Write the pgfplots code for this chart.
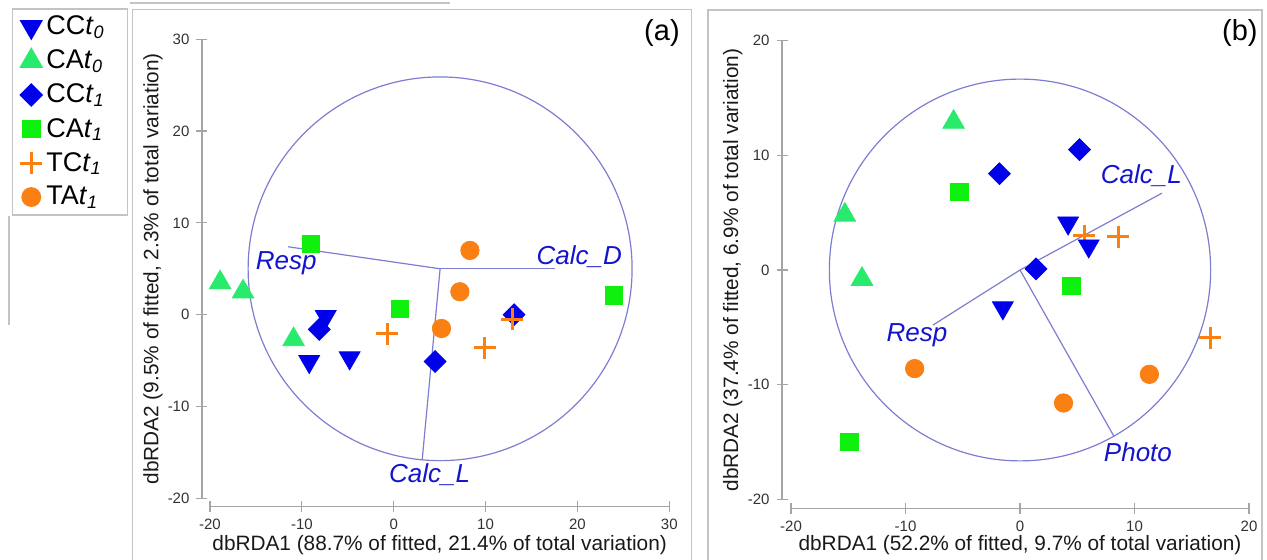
\documentclass[border=0pt]{standalone}
\usepackage{fontspec}
\setmainfont{Liberation Sans}
\usepackage{pgfplots}
\pgfplotsset{compat=1.18}

\definecolor{mblue}{RGB}{0,0,235}
\definecolor{mgT}{RGB}{40,235,110}
\definecolor{mgS}{RGB}{15,240,15}
\definecolor{morange}{RGB}{250,128,20}
\definecolor{circc}{RGB}{125,125,210}
\definecolor{labc}{RGB}{20,20,205}
\definecolor{axgray}{RGB}{165,165,165}
\definecolor{framec}{RGB}{195,195,195}
\definecolor{tickc}{RGB}{50,50,50}

\pgfplotsset{
  rda/.style={
    scale only axis, clip=false,
    axis x line*=bottom, axis y line*=left,
    axis line style={axgray, line width=0.6pt, -},
    every tick/.style={axgray, line width=0.6pt},
    tick align=center, major tick length=5.5pt,
    tick label style={font=\fontsize{7.5}{9}\selectfont, text=tickc},
    label style={font=\fontsize{10.4}{12}\selectfont, text=black!90},
    /pgf/number format/assume math mode=true,
    xtick distance=10, ytick distance=10,
  },
  ccz/.style={only marks, mark=triangle*, mark size=6pt,
    mark options={rotate=180, draw=mblue, fill=mblue}},
  caz/.style={only marks, mark=triangle*, mark size=6.2pt,
    mark options={draw=mgT, fill=mgT}},
  cco/.style={only marks, mark=square*, mark size=3.85pt,
    mark options={rotate=45, draw=mblue, fill=mblue}},
  cao/.style={only marks, mark=square*, mark size=4.35pt,
    mark options={draw=mgS, fill=mgS}},
  tco/.style={only marks, mark=+, mark size=5.5pt,
    mark options={draw=morange, line width=1.5pt}},
  tao/.style={only marks, mark=*, mark size=4.6pt,
    mark options={draw=morange, fill=morange}},
  vec/.style={circc, line width=0.6pt, no marks, forget plot},
}
\tikzset{vlab/.style={labc, font=\fontsize{13}{15}\selectfont\itshape}}
\newcommand{\sub}[1]{\textit{t}\raisebox{-0.12em}{\fontsize{9}{10}\selectfont\textit{#1}}\hspace*{6pt}}

\begin{document}
\begin{tikzpicture}
\path[use as bounding box] (0,0) rectangle (633.5pt,280pt);

% panel frames (pixel units)
\begin{scope}[x=0.5pt,y=-0.5pt,yshift=280pt]
  \draw[framec, line width=0.7pt] (132.7,570) -- (132.7,9.3) -- (691.7,9.3) -- (691.7,570);
  \draw[framec, line width=0.7pt] (708,570) -- (708,10) -- (1262,10) -- (1262,570);
  \draw[framec, line width=0.6pt] (130,3) -- (450,3);
  \draw[framec, line width=0.6pt] (9,216) -- (9,325);
\end{scope}

% ---------------- panel (a) ----------------
\begin{axis}[rda,
  at={(105pt,30.85pt)}, anchor=south west,
  width=229.65pt, height=229.5pt,
  xmin=-20, xmax=30, ymin=-20, ymax=30,
  axis x line shift=4.2pt, axis y line shift=4pt,
  xlabel={dbRDA1 (88.7\% of fitted, 21.4\% of total variation)},
  ylabel={dbRDA2 (9.5\% of fitted, 2.3\% of total variation)},
  xlabel style={at={(axis description cs:0.5,-0.1017)}, anchor=center},
  ylabel style={at={(axis description cs:-0.124,0.5)}, anchor=center},
  legend style={at={(-0.432,1.0675)}, anchor=north west,
    draw=framec, line width=0.7pt,
    font=\fontsize{13.5}{15}\selectfont, row sep=2.1pt,
    inner xsep=4pt, inner ysep=1.5pt},
  legend cell align=left,
]
\addlegendimage{ccz}\addlegendentry{CC\sub{0}}
\addlegendimage{caz}\addlegendentry{CA\sub{0}}
\addlegendimage{cco}\addlegendentry{CC\sub{1}}
\addlegendimage{cao}\addlegendentry{CA\sub{1}}
\addlegendimage{tco}\addlegendentry{TC\sub{1}}
\addlegendimage{tao}\addlegendentry{TA\sub{1}}

\draw[circc, line width=0.6pt] (axis cs:5.05,5.0) circle[radius=20.9];
\addplot[vec] coordinates {(5.05,5.0) (-11.5,7.4)};
\addplot[vec] coordinates {(5.05,5.0) (17.6,5.0)};
\addplot[vec] coordinates {(5.05,5.0) (3.1,-15.8)};

\addplot[cco, forget plot] coordinates {(-8.1,-1.6) (4.5,-5.1) (13.1,0.0)};
\addplot[ccz, forget plot] coordinates {(-7.4,-0.2) (-9.2,-5.1) (-4.8,-4.7)};
\addplot[caz, forget plot] coordinates {(-18.9,3.5) (-16.4,2.5) (-10.9,-2.7)};
\addplot[cao, forget plot] coordinates {(-9.0,7.7) (0.7,0.6) (24.0,2.1)};
\addplot[tao, forget plot] coordinates {(8.3,7.0) (7.2,2.5) (5.2,-1.5)};
\addplot[tco, forget plot] coordinates {(-0.7,-2.1) (9.9,-3.6) (12.9,-0.5)};

\node[vlab] at (axis cs:-11.7,5.6) {Resp};
\node[vlab] at (axis cs:20.2,6.3) {Calc\_D};
\node[vlab] at (axis cs:3.9,-17.4) {Calc\_L};
\node[font=\fontsize{14.5}{16}\selectfont] at (axis cs:29.2,30.7) {(a)};
\end{axis}

% ---------------- panel (b) ----------------
\begin{axis}[rda,
  at={(395.5pt,30.35pt)}, anchor=south west,
  width=229pt, height=229.3pt,
  xmin=-20, xmax=20, ymin=-20, ymax=20,
  axis x line shift=4.5pt, axis y line shift=4.5pt,
  xlabel={dbRDA1 (52.2\% of fitted, 9.7\% of total variation)},
  ylabel={dbRDA2 (37.4\% of fitted, 6.9\% of total variation)},
  xlabel style={at={(axis description cs:0.5,-0.0997)}, anchor=center},
  ylabel style={at={(axis description cs:-0.127,0.5)}, anchor=center},
]
\draw[circc, line width=0.6pt] (axis cs:0,0) circle[radius=16.65];
\addplot[vec] coordinates {(0,0) (12.4,6.7)};
\addplot[vec] coordinates {(0,0) (-7.6,-4.8)};
\addplot[vec] coordinates {(0,0) (8.2,-14.5)};

\addplot[cco] coordinates {(-1.8,8.4) (5.2,10.5) (1.4,0.1)};
\addplot[tco] coordinates {(5.6,3.0) (8.6,2.9) (16.6,-5.9)};
\addplot[ccz] coordinates {(4.2,4.1) (6.0,2.1) (-1.5,-3.3)};
\addplot[caz] coordinates {(-5.8,12.9) (-15.3,4.8) (-13.8,-0.8)};
\addplot[cao] coordinates {(-5.3,6.8) (4.5,-1.4) (-14.9,-15.0)};
\addplot[tao] coordinates {(-9.2,-8.6) (3.8,-11.6) (11.3,-9.1)};

\node[vlab] at (axis cs:10.6,8.2) {Calc\_L};
\node[vlab] at (axis cs:-9.0,-5.7) {Resp};
\node[vlab] at (axis cs:10.3,-15.9) {Photo};
\node[font=\fontsize{14.5}{16}\selectfont] at (axis cs:19.2,20.67) {(b)};
\end{axis}
\end{tikzpicture}
\end{document}
